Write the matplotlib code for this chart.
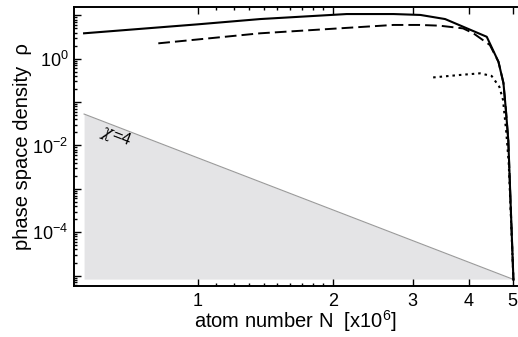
import numpy as np
import matplotlib
matplotlib.use('Agg')
import matplotlib.pyplot as plt
from matplotlib.ticker import FixedLocator, FuncFormatter, NullFormatter

plt.rcParams['font.family'] = ['Liberation Sans', 'DejaVu Sans']
plt.rcParams['mathtext.fontset'] = 'custom'
plt.rcParams['mathtext.rm'] = 'Liberation Sans'
plt.rcParams['mathtext.it'] = 'DejaVu Serif:italic'

# atom number N [x10^6] and phase space density rho for the three curves
n_solid = [0.559, 1.0, 1.375, 2.14, 2.72, 3.12, 3.54, 4.38, 4.65, 4.77, 4.83, 4.89, 5.02]
rho_solid = [3.85, 6.2, 8.2, 10.7, 10.7, 10.2, 8.2, 3.2, 0.85, 0.275, 0.066, 0.013, 8e-6]

n_dash = [0.817, 1.375, 2.72, 3.11, 3.44, 3.88, 4.09, 4.45, 4.65, 4.77, 4.83, 4.89, 5.02]
rho_dash = [2.26, 3.85, 6.0, 6.0, 5.77, 5.0, 3.85, 2.07, 0.85, 0.275, 0.066, 0.013, 8e-6]

n_dot = [3.33, 3.8, 4.23, 4.49, 4.67, 4.76, 4.84, 4.9, 5.02]
rho_dot = [0.37, 0.42, 0.46, 0.40, 0.226, 0.112, 0.02, 0.004, 8e-6]

# chi = 4 boundary line (end points) and floor of the shaded region
chi_n = [0.559, 5.0]
chi_rho = [0.053, 8.3e-6]
floor_rho = 8.3e-6

fig = plt.figure(figsize=(5.18, 3.37), dpi=100)
ax = fig.add_axes([0.1429, 0.1513, 0.855, 0.8277])

ax.fill_between(chi_n, chi_rho, floor_rho, color='#e4e4e6', lw=0)
ax.plot(chi_n, chi_rho, color='#9a9a9a', lw=0.8)

ax.plot(n_solid, rho_solid, color='black', lw=1.5)
ax.plot(n_dash, rho_dash, color='black', lw=1.4, dashes=(6, 2.6))
ax.plot(n_dot, rho_dot, color='black', lw=1.5, dashes=(1.2, 1.9))

ax.set_xscale('log')
ax.set_yscale('log')
ax.set_xlim(0.531, 5.11)
ax.set_ylim(10**-5.24, 10**1.19)

ax.xaxis.set_major_locator(FixedLocator([1, 2, 3, 4, 5]))
ax.xaxis.set_major_formatter(FuncFormatter(lambda v, p: '%d' % round(v)))
ax.xaxis.set_minor_locator(FixedLocator([1.1, 1.2, 1.3, 1.4, 1.5, 1.6, 1.7, 1.8, 1.9]))
ax.xaxis.set_minor_formatter(NullFormatter())

ymaj = [10.0**e for e in range(-5, 2)]
ymin = [m * 10.0**e for e in range(-6, 2) for m in range(2, 10)]
ax.yaxis.set_major_locator(FixedLocator(ymaj))
ax.yaxis.set_minor_locator(FixedLocator(ymin))
ax.yaxis.set_major_formatter(FuncFormatter(
    lambda v, p: r'$10^{%d}$' % round(np.log10(v)) if round(np.log10(v)) % 2 == 0 else ''))
ax.yaxis.set_minor_formatter(NullFormatter())

ax.tick_params(which='both', direction='in', top=True, right=False, labelsize=13, width=1.0)
ax.tick_params(which='major', length=5)
ax.tick_params(which='minor', length=2.5)
ax.tick_params(axis='x', pad=5)
ax.tick_params(axis='y', pad=4)

ax.spines['right'].set_visible(False)
for s in ['left', 'bottom', 'top']:
    ax.spines[s].set_linewidth(1.4)

ax.set_xlabel(r'atom number N  [x10$^6$]', fontsize=14.5, labelpad=-1)
ax.set_ylabel(r'phase space density  ρ', fontsize=14.5, labelpad=0)

ax.text(0.659, 0.0166, r'$\chi$=4', fontsize=12, rotation=-21, ha='center', va='center')

fig.savefig('out.png', dpi=100)
